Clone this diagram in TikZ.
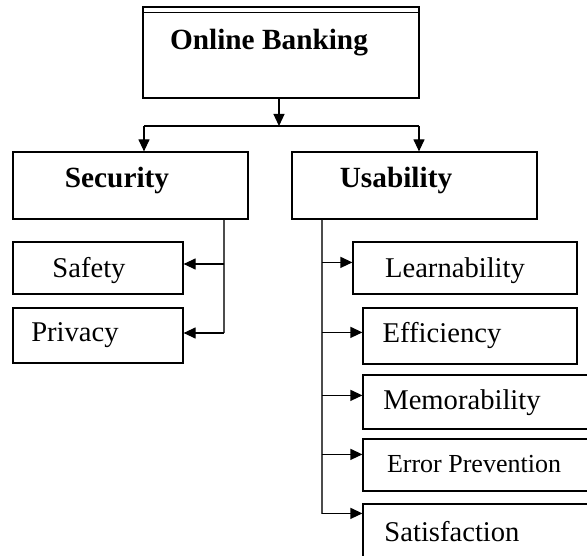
\documentclass[tikz,border=0pt]{standalone}
\usepackage{fontspec}
\setmainfont{Liberation Serif}
\usetikzlibrary{arrows.meta}

\begin{document}
\begin{tikzpicture}[x=1pt, y=-1pt,
  box/.style={draw, line width=1.2pt, rectangle, inner sep=0pt},
  head/.style={font=\fontsize{29.3}{34}\selectfont\bfseries, inner sep=0pt,
    text height=20pt, text depth=7pt},
  item/.style={font=\fontsize{28.6}{34}\selectfont, inner sep=0pt,
    text height=20pt, text depth=7pt},
  arr/.style={line width=1.2pt, -{Triangle[length=12pt,width=11pt]}},
  trunk/.style={line width=1.3pt, black!70}]

  \useasboundingbox (0,0) rectangle (587,556);
  \clip (0,0) rectangle (587,556);

  % boxes
  \node[box, minimum width=276pt, minimum height=91pt] (bank) at (281,52.5) {};
  \draw[line width=1.2pt] ([yshift=-6pt]bank.north west) -- ([yshift=-6pt]bank.north east);
  \node[box, minimum width=235pt, minimum height=67pt] (sec) at (130.5,185.5) {};
  \node[box, minimum width=245pt, minimum height=67pt] (usab) at (414.5,185.5) {};
  \node[box, minimum width=170pt, minimum height=52pt] (safety) at (98,268) {};
  \node[box, minimum width=170pt, minimum height=55pt] (privacy) at (98,335.5) {};
  \node[box, minimum width=224pt, minimum height=52pt] (learn) at (465,268) {};
  \node[box, minimum width=214pt, minimum height=56pt] (eff) at (470,336) {};
  \node[box, minimum width=240pt, minimum height=54pt] (mem) at (483,402) {};
  \node[box, minimum width=240pt, minimum height=52pt] (err) at (483,465) {};
  \node[box, minimum width=240pt, minimum height=56pt] (sat) at (483,532) {};

  % texts
  \node[head] (bank-t) at (269,43) {Online Banking};
  \node[head] (sec-t) at (117,181) {Security};
  \node[head] (usab-t) at (396,181) {Usability};
  \node[item] (safety-t) at (89,271) {Safety};
  \node[item] (privacy-t) at (75,335) {Privacy};
  \node[item] (learn-t) at (455,271) {Learnability};
  \node[item] (eff-t) at (442,336) {Efficiency};
  \node[item] (mem-t) at (462,403) {Memorability};
  \node[item, font=\fontsize{26}{30}\selectfont] (err-t) at (474,466) {Error Prevention};
  \node[item] (sat-t) at (452,535) {Satisfaction};

  % top split
  \coordinate (split) at (279,126);
  \coordinate (split-l) at (144,126);
  \coordinate (split-r) at (419,126);
  \draw[arr] (bank.south -| split) -- (split);
  \draw[line width=1.2pt] (split-l) -- (split-r);
  \draw[arr] (split-l) -- (split-l |- sec.north);
  \draw[arr] (split-r) -- (split-r |- usab.north);

  % security branch
  \coordinate (s-trunk) at (224,333);
  \coordinate (safety-in) at ([yshift=4pt]safety.east);
  \draw[trunk] (s-trunk |- sec.south) -- (s-trunk);
  \draw[arr] (safety-in -| s-trunk) -- (safety-in);
  \draw[arr] (s-trunk) -- (s-trunk -| privacy.east);

  % usability branch
  \coordinate (u-trunk) at (322,514);
  \draw[trunk] (u-trunk |- usab.south) -- (u-trunk);
  \foreach \n/\d in {learn/-21pt, eff/-25pt, mem/-21pt, err/-16pt, sat/-10pt} {
    \coordinate (\n-in) at ([yshift=\d]\n.north west);
    \draw[arr] (\n-in -| u-trunk) -- (\n-in);
  }
\end{tikzpicture}
\end{document}
